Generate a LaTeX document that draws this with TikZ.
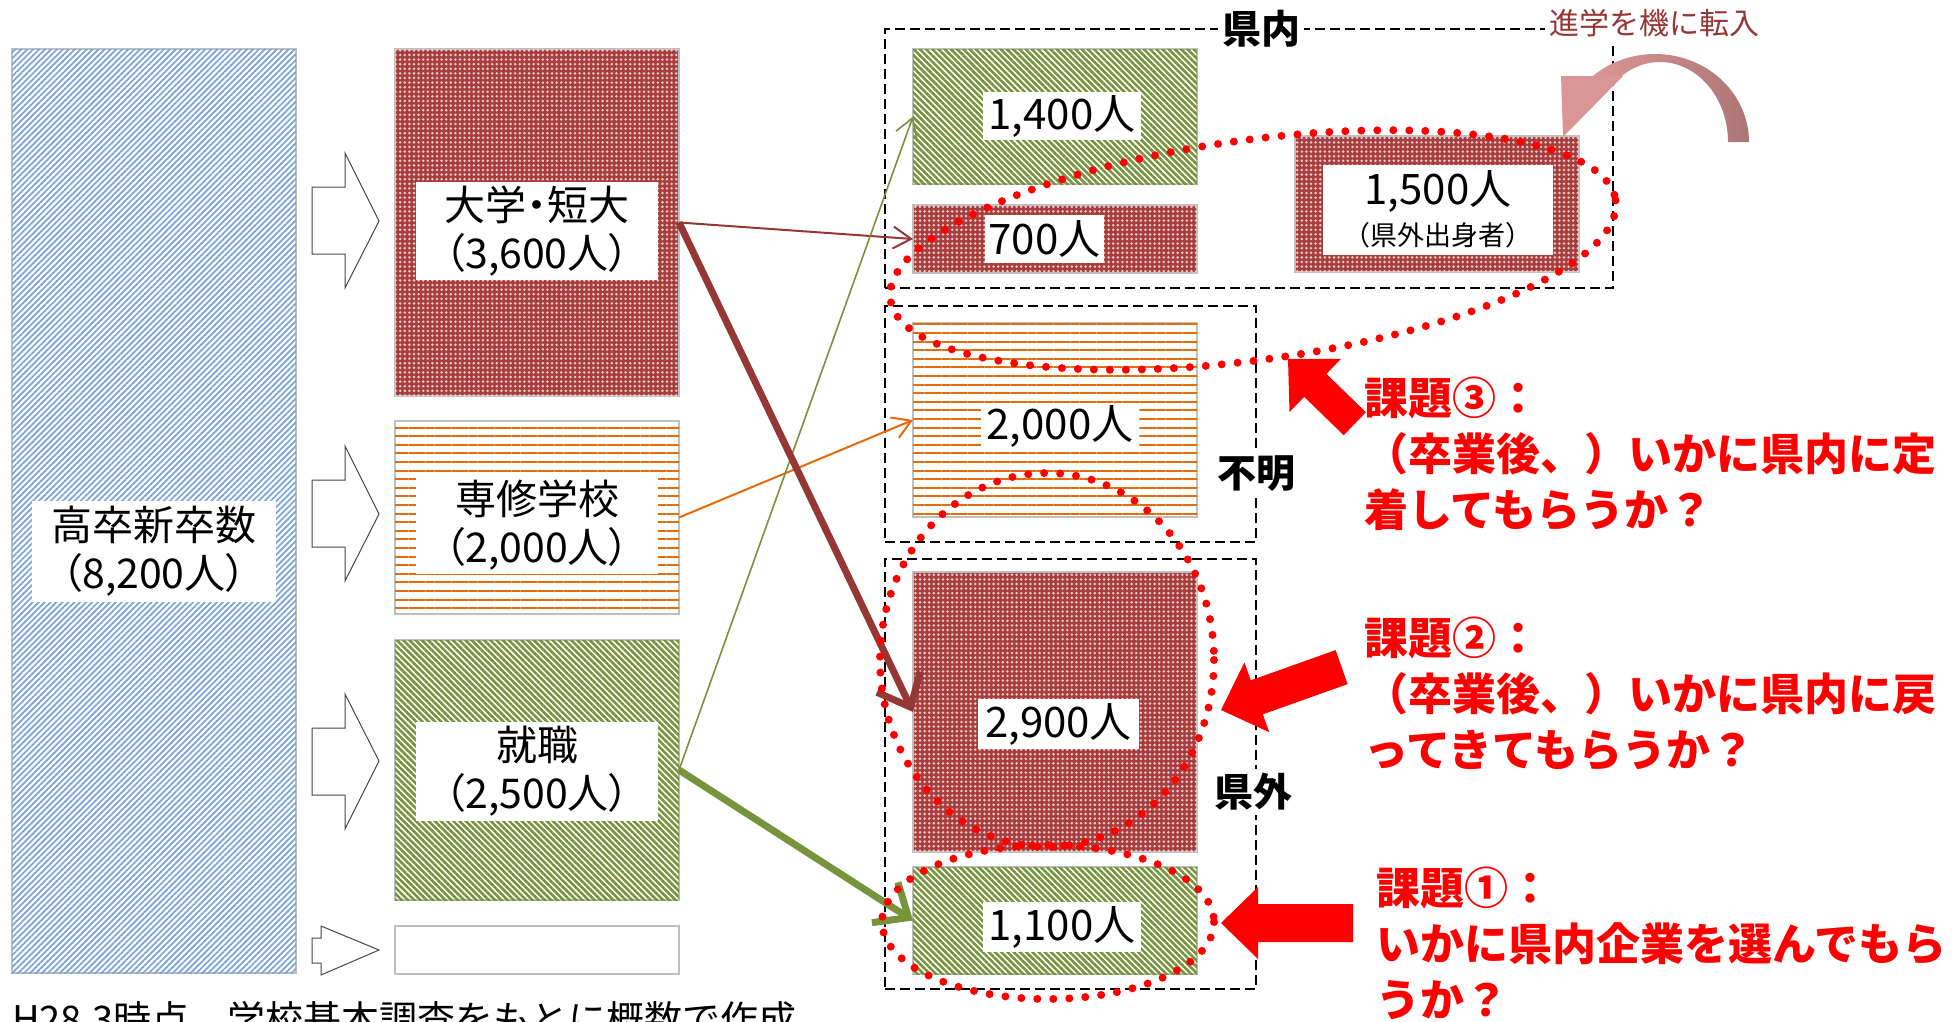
\documentclass[tikz,border=0pt]{standalone}
\usepackage{fontspec}
\setmainfont{Noto Sans CJK JP}
\newfontfamily\jpp{Noto Sans CJK JP}[RawFeature=+palt]
\usetikzlibrary{patterns.meta,arrows.meta}
\definecolor{dred}{RGB}{149,55,53}
\definecolor{boxred}{RGB}{166,62,62}
\definecolor{dotpink}{RGB}{240,200,200}
\definecolor{orangec}{RGB}{228,108,10}
\definecolor{greenc}{RGB}{119,147,60}
\definecolor{bluec}{RGB}{120,162,218}
\definecolor{boxgray}{RGB}{191,191,191}
\definecolor{pinkL}{RGB}{218,150,148}
\definecolor{pinkD}{RGB}{172,118,118}
\definecolor{arrgray}{RGB}{70,70,70}
\begin{document}
\begin{tikzpicture}[x=1pt,y=-1pt,
  bx/.style={draw=boxgray, line width=2.5pt, inner sep=0pt, outer sep=0pt, anchor=north west},
  bluebx/.style={bx, fill=white, postaction={pattern={Lines[angle=45,distance=4.2pt,line width=1.7pt]}, pattern color=bluec}},
  redbx/.style={bx, fill=boxred, postaction={pattern={Dots[distance=4.6pt,radius=1.4pt]}, pattern color=dotpink}},
  orgbx/.style={bx, fill=white, postaction={pattern={Lines[angle=0,distance=8.6pt,line width=2pt]}, pattern color=orangec}},
  grnbx/.style={bx, fill=white, postaction={pattern={Lines[angle=-45,distance=4.4pt,line width=2.6pt]}, pattern color=greenc}},
  dashbx/.style={draw=black, line width=2pt, dash pattern=on 10pt off 5pt, inner sep=0pt, outer sep=0pt, anchor=north west},
  lbl/.style={fill=white, inner sep=0pt, align=center, font=\jpp\fontsize{41}{48}\selectfont},
  numlbl/.style={fill=white, inner sep=0pt, align=center, font=\fontsize{42}{48}\selectfont},
  seclbl/.style={fill=white, inner sep=4pt, font=\bfseries\fontsize{39}{44}\selectfont},
  blk/.style={draw=arrgray, line width=1pt, fill=white, line join=miter},
  thinarr/.style={line width=2pt, -{Straight Barb[length=18pt,width=22pt]}},
  thickarr/.style={line width=7pt, -{Straight Barb[length=28pt,width=48pt]}},
  dotloop/.style={draw=red, line width=8pt, line cap=round, dash pattern=on 0pt off 16pt},
  redarrow/.style={fill=red, draw=none},
  redtxt/.style={text=red, font=\bfseries\fontsize{44}{56}\selectfont, align=left, anchor=north west, inner sep=0pt}
]
\useasboundingbox (0,0) rectangle (1959,1021);

% dashed regions
\node[dashbx, minimum width=728, minimum height=259] (kennai) at (885,29) {};
\node[dashbx, minimum width=371, minimum height=236] (fumei) at (885,306) {};
\node[dashbx, minimum width=371, minimum height=430] (kengai) at (885,559) {};

% left column
\node[bluebx, minimum width=284, minimum height=924] (all) at (12,49) {};
\node[redbx, minimum width=284, minimum height=347] (univ) at (395,49) {};
\node[orgbx, minimum width=284, minimum height=193] (senshu) at (395,421) {};
\node[grnbx, minimum width=284, minimum height=260] (job) at (395,640) {};
\node[bx, fill=white, minimum width=284, minimum height=48] (other) at (395,926) {};

% right column
\node[grnbx, minimum width=284, minimum height=135] (r1400) at (913,49) {};
\node[redbx, minimum width=284, minimum height=68] (r700) at (913,205) {};
\node[redbx, minimum width=284, minimum height=136] (r1500) at (1295,136) {};
\node[orgbx, minimum width=284, minimum height=194] (r2000) at (913,323) {};
\node[redbx, minimum width=284, minimum height=280] (r2900) at (913,572) {};
\node[grnbx, minimum width=284, minimum height=107] (r1100) at (913,867) {};

% block arrows
\draw[blk] (312,187) -- (345,187) -- (345,153) -- (379,221) -- (345,288) -- (345,254) -- (312,254) -- cycle;
\draw[blk] (312,480) -- (345,480) -- (345,446) -- (379,514) -- (345,581) -- (345,547) -- (312,547) -- cycle;
\draw[blk] (312,728) -- (345,728) -- (345,694) -- (379,761) -- (345,829) -- (345,795) -- (312,795) -- cycle;
\draw[blk] (312,938) -- (321,938) -- (321,926) -- (379,950) -- (321,975) -- (321,963) -- (312,963) -- cycle;

% labels
\node[lbl, minimum width=244, minimum height=101] (allL) at (154,551.5) {高卒新卒数\\（8,200人）};
\node[lbl, minimum width=242, minimum height=98] (univL) at (537,231) {大学・短大\\（3,600人）};
\node[lbl, minimum width=242, minimum height=97] (senshuL) at (537,525.5) {専修学校\\（2,000人）};
\node[lbl, minimum width=242, minimum height=99] (jobL) at (537,771.5) {就職\\（2,500人）};

\node[numlbl, minimum width=158, minimum height=48] (l1400) at (1062,116) {1,400人};
\node[numlbl, minimum width=119, minimum height=48] (l700) at (1044.5,239) {700人};
\node[numlbl, minimum width=158, minimum height=43] (l2000) at (1060,426.5) {2,000人};
\node[numlbl, minimum width=161, minimum height=50] (l2900) at (1058.5,724) {2,900人};
\node[numlbl, minimum width=158, minimum height=50] (l1100) at (1062,927) {1,100人};
\node[fill=white, inner sep=0pt, minimum width=230, minimum height=90] (l1500) at (1438,210) {};
\node[inner sep=0pt, font=\fontsize{42}{48}\selectfont] (l1500a) at (1438,191) {1,500人};
\node[inner sep=0pt, font=\fontsize{27}{32}\selectfont] (l1500b) at (1438,235) {（県外出身者）};

\node[seclbl] (tkennai) at (1261,29) {県内};
\node[seclbl] (tfumei) at (1256,474) {不明};
\node[seclbl] (tkengai) at (1253,792) {県外};

% connectors
\draw[dred, thinarr] (univ.east) -- (r700.west);
\draw[orangec, thinarr] (senshu.east) -- (r2000.west);
\draw[greenc, thinarr, line width=1.6pt] (job.east) -- (r1400.west);
\draw[dred, thickarr] (univ.east) -- (r2900.west);
\draw[greenc, thickarr] (job.east) -- (r1100.west);

% curved pink arrow
\shade[left color=pinkL, right color=pinkD]
  plot[domain=0:132.4, samples=50] ({1655+94*cos(\x)},{142-88*sin(\x)})
  -- plot[domain=125.7:0, samples=50] ({1660+68*cos(\x)},{142-80*sin(\x)}) -- cycle;
\fill[pinkL] (1561,76) -- (1623,76) -- (1563,137) -- cycle;
\node[fill=white, text=dred, inner sep=4pt, font=\fontsize{30}{34}\selectfont] (tenyu) at (1654,23) {進学を機に転入};

% dotted loops
\draw[dotloop, rotate around={7.8:(1253,250)}] (1253,250) ellipse [x radius=366, y radius=110];
\draw[dotloop] (1047,660) ellipse [x radius=167, y radius=187];
\draw[dotloop] (1048,922) ellipse [x radius=166, y radius=77];

% red block arrows
\fill[redarrow] (1288,359) -- (1289.5,412.0) -- (1304.2,396.9) -- (1343.7,435.2) -- (1365.9,412.2) -- (1326.4,373.9) -- (1341.0,358.8) -- cycle;
\fill[redarrow] (1221,710) -- (1244.4,662.4) -- (1250.8,680.3) -- (1335.6,650.1) -- (1347.6,684.1) -- (1262.8,714.3) -- (1269.2,732.2) -- cycle;
\fill[redarrow] (1221,923) -- (1258,887) -- (1258,904) -- (1353,904) -- (1353,942) -- (1258,942) -- (1258,959) -- cycle;

% issue texts
\node[redtxt] (issue3) at (1364,377) {課題③：\\（卒業後、）いかに県内に定\\着してもらうか？};
\node[redtxt] (issue2) at (1364,617) {課題②：\\（卒業後、）いかに県内に戻\\ってきてもらうか？};
\node[redtxt] (issue1) at (1376,867) {課題①：\\いかに県内企業を選んでもら\\うか？};

% footnote (cut by the lower edge, as in the reference)
\node[anchor=base west, inner sep=0pt, font=\fontsize{38}{44}\selectfont] (note) at (12,1033) {H28.3時点、学校基本調査をもとに概数で作成};
\end{tikzpicture}
\end{document}
